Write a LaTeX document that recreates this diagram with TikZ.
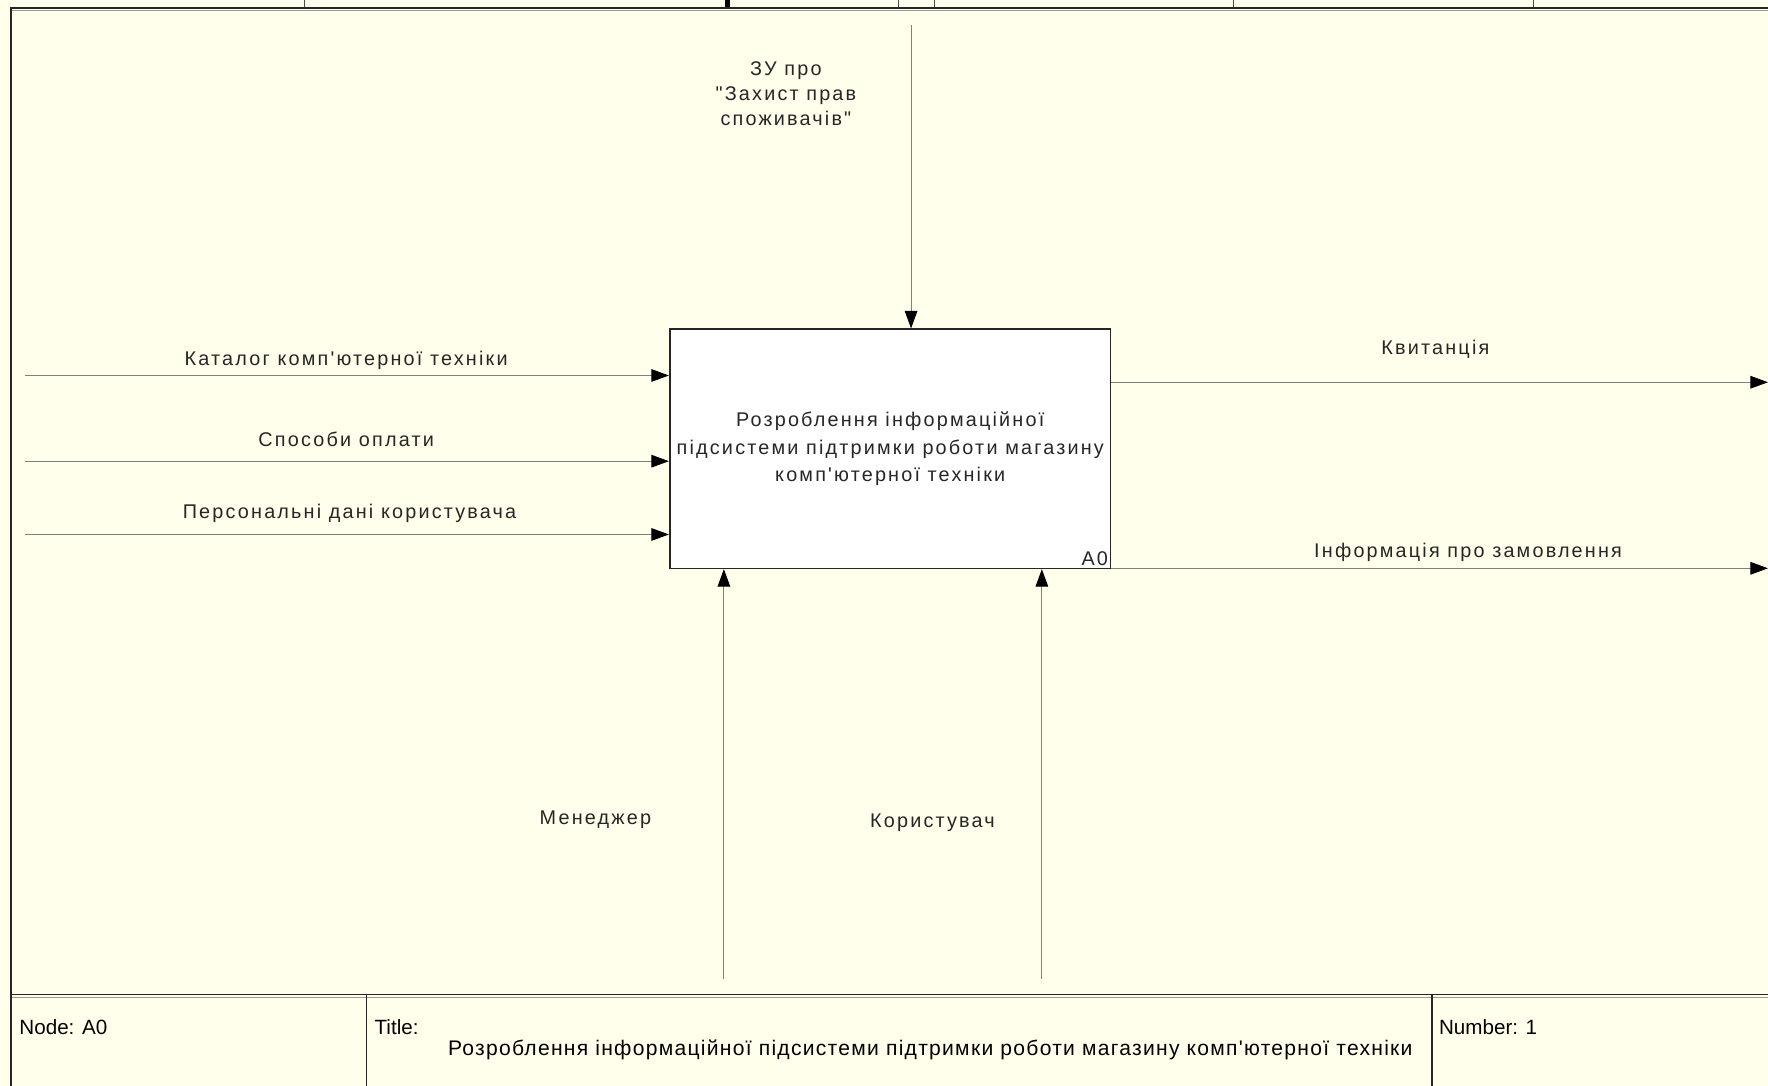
\documentclass[tikz,border=0pt]{standalone}
\usepackage{fontspec}
\setmainfont{Liberation Sans}
\newfontfamily\idefont[LetterSpace=11]{Liberation Sans}
\newfontfamily\footfont{Liberation Sans}
\newfontfamily\titlefont[LetterSpace=6]{Liberation Sans}
\usetikzlibrary{arrows.meta,positioning}

\definecolor{idefbg}{RGB}{255,255,235}
\definecolor{flowgray}{RGB}{128,128,128}

\tikzset{
  flow/.style={draw=flowgray, line width=0.6pt,
    -{Triangle[length=3.9mm,width=2.8mm,fill=black,color=black]}},
  lbl/.style={font=\idefont\fontsize{12.5}{15.6}\selectfont, inner sep=0pt, text=black!85, align=center},
  actbox/.style={draw=black!85, line width=1pt, fill=white,
    minimum width=9.775cm, minimum height=5.3cm, inner sep=0pt,
    font=\idefont\fontsize{12.5}{17.4}\selectfont, text=black!85, align=center},
  foot/.style={font=\footfont\fontsize{13}{15}\selectfont, inner sep=0pt, anchor=west},
  frame/.style={draw=black!85, line width=1.1pt}
}

\begin{document}
\begin{tikzpicture}[x=0.025cm, y=-0.025cm]
  \useasboundingbox (0,0) rectangle (1568,963);
  \fill[idefbg] (0,0) rectangle (1568,963);

  % header strip (cut off)
  \foreach \hx in {270,797,829,1094,1360}
    \draw[black!70, line width=0.5pt] (\hx,0) -- (\hx,7);
  \fill[black] (643,0) rectangle (647,7);

  % frame
  \draw[frame] (10,963) -- (10,7) -- (1568,7);
  \draw[black!40, line width=0.5pt] (11,9.5) -- (1568,9.5);

  % activity
  \node[actbox] (a0) at (789.5,398) {Розроблення інформаційної\\підсистеми підтримки роботи магазину\\комп'ютерної техніки};
  \node[lbl, anchor=south east] (a0num) at ([xshift=-2pt,yshift=2pt]a0.south east) {A0};

  % control
  \coordinate (ctrl) at (808,22);
  \draw[flow] (ctrl) -- (ctrl |- a0.north);
  \node[lbl] (ctrllbl) at (697,83) {ЗУ про\\"Захист прав\\споживачів"};

  % inputs
  \coordinate (in1) at (22,333);
  \coordinate (in2) at (22,409);
  \coordinate (in3) at (22,474);
  \draw[flow] (in1) -- (in1 -| a0.west);
  \draw[flow] (in2) -- (in2 -| a0.west);
  \draw[flow] (in3) -- (in3 -| a0.west);
  \node[lbl] (in1lbl) at (307,320) {Каталог комп'ютерної техніки};
  \node[lbl] (in2lbl) at (307,390) {Способи оплати};
  \node[lbl] (in3lbl) at (310,455) {Персональні дані користувача};

  % outputs
  \coordinate (out1) at (1568,339);
  \coordinate (out2) at (1568,504);
  \draw[flow] (out1 -| a0.east) -- (out1);
  \draw[flow] (out2 -| a0.east) -- (out2);
  \node[lbl] (out1lbl) at (1273,310) {Квитанція};
  \node[lbl] (out2lbl) at (1302,490) {Інформація про замовлення};

  % mechanisms
  \coordinate (mech1) at (642,868);
  \coordinate (mech2) at (924,868);
  \draw[flow] (mech1) -- (mech1 |- a0.south);
  \draw[flow] (mech2) -- (mech2 |- a0.south);
  \node[lbl] (mech1lbl) at (528,727) {Менеджер};
  \node[lbl] (mech2lbl) at (827,730) {Користувач};

  % footer
  \draw[frame] (10,882) -- (1568,882);
  \draw[black!40, line width=0.5pt] (11,884.5) -- (1568,884.5);
  \draw[frame] (325,882) -- (325,963);
  \draw[frame] (1270,882) -- (1270,963);
  \node[foot] (fnode) at (17,911) {Node: A0};
  \node[foot] (ftitle) at (332,911) {Title:};
  \node[foot, anchor=center, font=\titlefont\fontsize{13.3}{15}\selectfont] (ftext) at (825,931) {Розроблення інформаційної підсистеми підтримки роботи магазину комп'ютерної техніки};
  \node[foot] (fnum) at (1276,911) {Number: 1};
\end{tikzpicture}
\end{document}
